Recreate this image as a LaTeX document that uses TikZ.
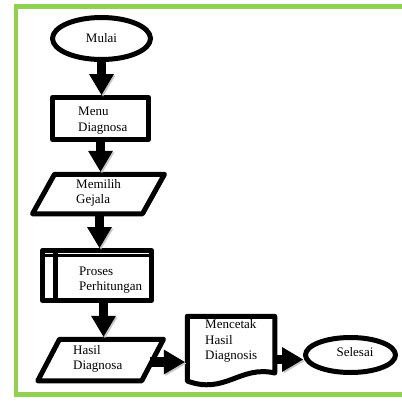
\documentclass[tikz,border=0pt]{standalone}
\usepackage{fontspec}
\setmainfont{Liberation Serif}
\usetikzlibrary{arrows.meta,shapes.geometric,calc}
\definecolor{framegreen}{HTML}{92D050}
\begin{document}
\begin{tikzpicture}[x=1pt,y=-1pt,
  shp/.style={draw=black, line width=5pt, line join=round, inner sep=0pt},
  ghost/.style={rectangle, inner sep=0pt, outer sep=2.5pt},
  lbl/.style={font=\fontsize{13}{15.5}\selectfont, align=left, inner sep=0pt, anchor=west},
  flow/.style={line width=9.5pt, -{Triangle[width=25pt,length=21pt,line width=0pt]},
    preaction={draw=black!22, transform canvas={xshift=1.5pt,yshift=-1.5pt}}},
  ]
\useasboundingbox (0,0) rectangle (402,400);
% frame
\draw[framegreen, line width=4.5pt] (410,6.5) -- (16,6.5) -- (16,394.5) -- (410,394.5);

% Mulai
\node[shp, ellipse, minimum width=98pt, minimum height=42pt, font=\fontsize{13}{15.5}\selectfont] (mulai) at (101.5,38.5) {Mulai};

% Menu Diagnosa
\node[shp, rectangle, minimum width=96pt, minimum height=42pt] (menu) at (100.5,118.5) {};
\node[lbl] (menutxt) at (78,120.5) {Menu\\Diagnosa};

% Memilih Gejala (parallelogram)
\node[ghost, minimum width=88pt, minimum height=39.5pt] (memilih) at (98.5,194) {};
\draw[shp] (54.5,174.25) -- (164.5,174.25) -- (142.5,213.75) -- (32.5,213.75) -- cycle;
\node[lbl] (memtxt) at (76,193) {Memilih\\Gejala};

% Proses Perhitungan (predefined process)
\node[shp, rectangle, minimum width=109pt, minimum height=50pt] (proses) at (97,275.5) {};
\draw[line width=4.5pt] (55.5,250.5) -- (55.5,300.5);
\draw[line width=3pt] (42.5,255) -- (151.5,255);
\node[lbl] (prostxt) at (79,280) {Proses\\Perhitungan};

% Hasil Diagnosa (parallelogram)
\node[ghost, minimum width=84pt, minimum height=41.5pt] (hasil) at (100.75,360) {};
\draw[shp] (59.5,339.25) -- (163.5,339.25) -- (141.75,380.75) -- (37.75,380.75) -- cycle;
\node[lbl] (hasiltxt) at (73,359) {Hasil\\Diagnosa};
\coordinate (hasilR) at (150,362);

% Mencetak Hasil Diagnosis (document)
\node[ghost, minimum width=87.5pt, minimum height=64.75pt] (doc) at (231,348.6) {};
\draw[shp] (187.25,381) -- (187.25,316.25) -- (274.75,316.25) -- (274.75,373)
  .. controls (240,365) and (225,395) .. (187.25,381) -- cycle;
\node[lbl] (doctxt) at (205,341) {Mencetak\\Hasil\\Diagnosis};

% Selesai
\node[shp, ellipse, minimum width=90pt, minimum height=35pt] (selesai) at (350.5,355) {};
\node[lbl, anchor=center] (seltxt) at (355,352.5) {Selesai};

% connectors
\coordinate (a6) at (0,359.5);
\draw[flow] (mulai.south) -- (mulai.south |- menu.north);
\draw[flow] (menu.south) -- (menu.south |- memilih.north);
\draw[flow] ([xshift=1pt]memilih.south) -- ([xshift=1pt]memilih.south |- proses.north);
\draw[flow] ([xshift=6.5pt]proses.south) -- ([xshift=6.5pt]proses.south |- hasil.north);
\draw[flow] (hasilR) -- (hasilR -| doc.west);
\draw[flow] (doc.east |- a6) -- (selesai.west |- a6);
\end{tikzpicture}
\end{document}
